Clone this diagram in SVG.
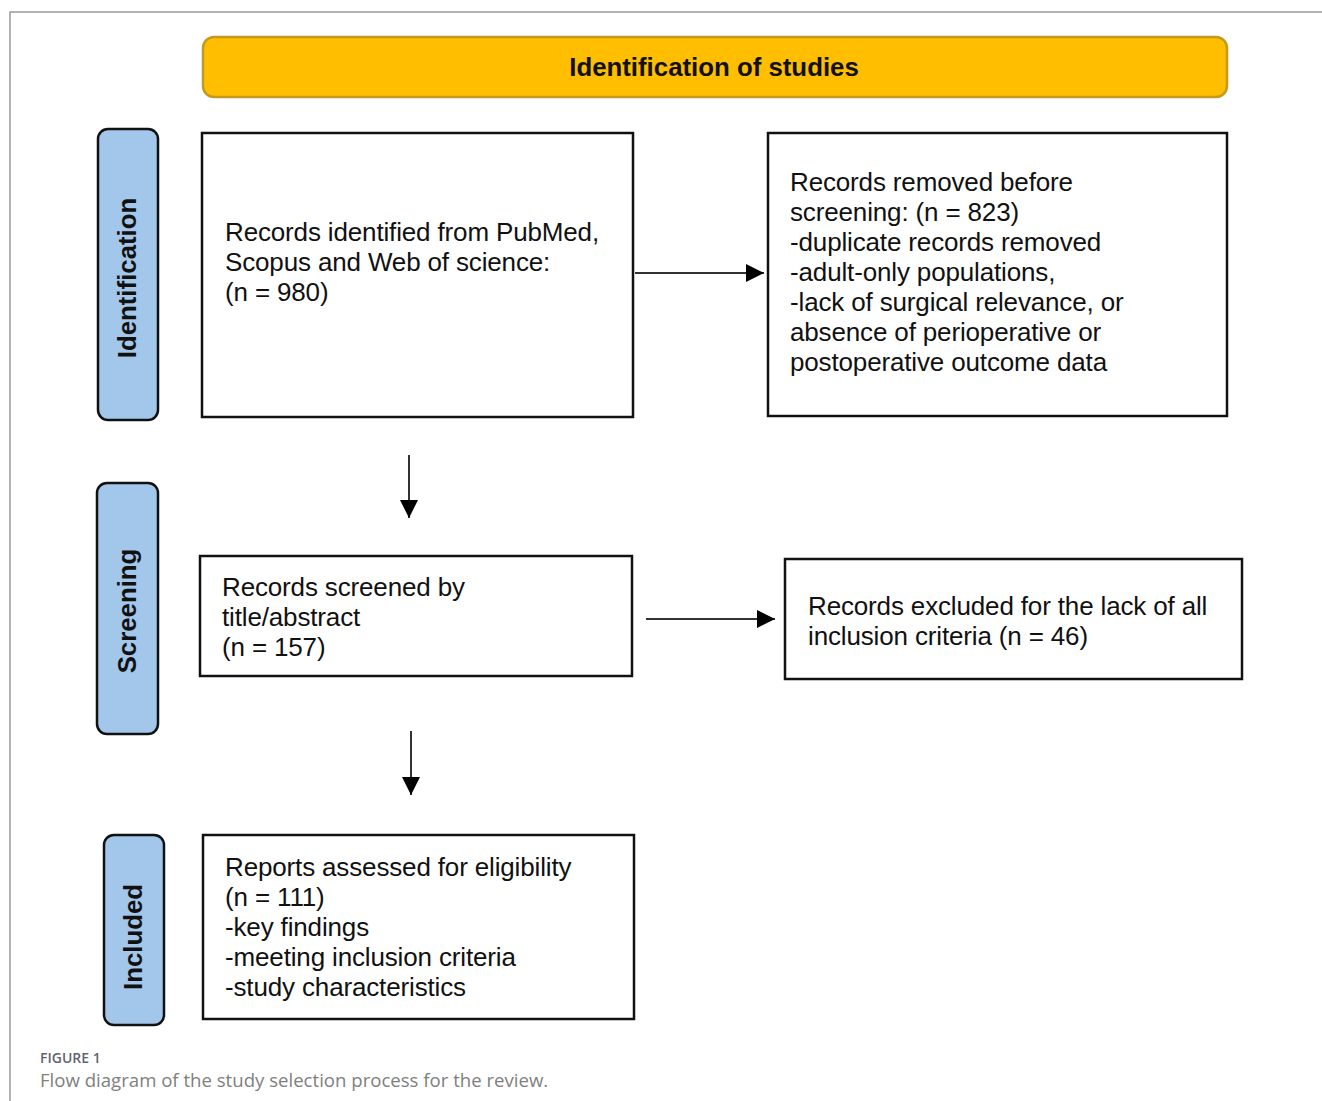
<svg xmlns="http://www.w3.org/2000/svg" width="1322" height="1101" viewBox="0 0 1322 1101">
<style>
.frame{fill:none;stroke:#999;stroke-width:1.5}
.phase{fill:#A3C7EA;stroke:#111;stroke-width:2.5}
.box{fill:#fff;stroke:#111;stroke-width:2.5}
.t{font-family:"Liberation Sans",Arial,sans-serif;font-size:26px;letter-spacing:-0.15px;fill:#111}
.pl{font-family:"Liberation Sans",Arial,sans-serif;font-size:25.8px;font-weight:bold;fill:#111;text-anchor:middle}
.conn{stroke:#333;stroke-width:2;fill:none}
</style>
<defs>
<marker id="ah2" viewBox="0 0 10 10" refX="10" refY="5" markerWidth="18" markerHeight="18" markerUnits="userSpaceOnUse" orient="auto">
<path d="M0,0 L10,5 L0,10 z" fill="#000"/>
</marker>
</defs>
<rect width="1322" height="1101" fill="#fff"/>
<path class="frame" d="M10,1101 V12 H1322"/>
<g id="header">
<rect x="203" y="37" width="1024" height="60" rx="11" fill="#FFBE00" stroke="#C49A1E" stroke-width="2.5"/>
<text x="714" y="76" class="pl">Identification of studies</text>
</g>
<g id="phase-identification">
<rect class="phase" x="98" y="129" width="60" height="291" rx="10"/>
<text class="pl" transform="translate(136,278) rotate(-90)">Identification</text>
</g>
<g id="phase-screening">
<rect class="phase" x="97" y="483" width="61" height="251" rx="10"/>
<text class="pl" transform="translate(136,611) rotate(-90)">Screening</text>
</g>
<g id="phase-included">
<rect class="phase" x="104" y="835" width="60" height="190" rx="10"/>
<text class="pl" transform="translate(142,937) rotate(-90)">Included</text>
</g>
<g id="records-identified">
<rect class="box" x="202" y="133" width="431" height="284"/>
<text class="t" x="225" y="241">Records identified from PubMed,</text>
<text class="t" x="225" y="271">Scopus and Web of science:</text>
<text class="t" x="225" y="301">(n = 980)</text>
</g>
<g id="records-removed">
<rect class="box" x="768" y="133" width="459" height="283"/>
<text class="t" x="790" y="191">Records removed before</text>
<text class="t" x="790" y="221">screening: (n = 823)</text>
<text class="t" x="790" y="251">-duplicate records removed</text>
<text class="t" x="790" y="281">-adult-only populations,</text>
<text class="t" x="790" y="311">-lack of surgical relevance, or</text>
<text class="t" x="790" y="341">absence of perioperative or</text>
<text class="t" x="790" y="371">postoperative outcome data</text>
</g>
<g id="records-screened">
<rect class="box" x="200" y="556" width="432" height="120"/>
<text class="t" x="222" y="596">Records screened by</text>
<text class="t" x="222" y="626">title/abstract</text>
<text class="t" x="222" y="656">(n = 157)</text>
</g>
<g id="records-excluded">
<rect class="box" x="785" y="559" width="457" height="120"/>
<text class="t" x="808" y="615">Records excluded for the lack of all</text>
<text class="t" x="808" y="645">inclusion criteria (n = 46)</text>
</g>
<g id="reports-assessed">
<rect class="box" x="203" y="835" width="431" height="184"/>
<text class="t" x="225" y="876">Reports assessed for eligibility</text>
<text class="t" x="225" y="906">(n = 111)</text>
<text class="t" x="225" y="936">-key findings</text>
<text class="t" x="225" y="966">-meeting inclusion criteria</text>
<text class="t" x="225" y="996">-study characteristics</text>
</g>
<g id="connectors">
<line class="conn" x1="635" y1="273" x2="764" y2="273" marker-end="url(#ah2)"/>
<line class="conn" x1="409" y1="455" x2="409" y2="518" marker-end="url(#ah2)"/>
<line class="conn" x1="411" y1="731" x2="411" y2="795" marker-end="url(#ah2)"/>
<line class="conn" x1="646" y1="619" x2="775" y2="619" marker-end="url(#ah2)"/>
</g>
<g id="caption">
<text x="40" y="1063" font-family="'Open Sans',sans-serif" font-size="14" font-weight="600" fill="#5F6570">FIGURE 1</text>
<text x="40" y="1087" font-family="'Open Sans',sans-serif" font-size="18.6" fill="#808080">Flow diagram of the study selection process for the review.</text>
</g>
</svg>
